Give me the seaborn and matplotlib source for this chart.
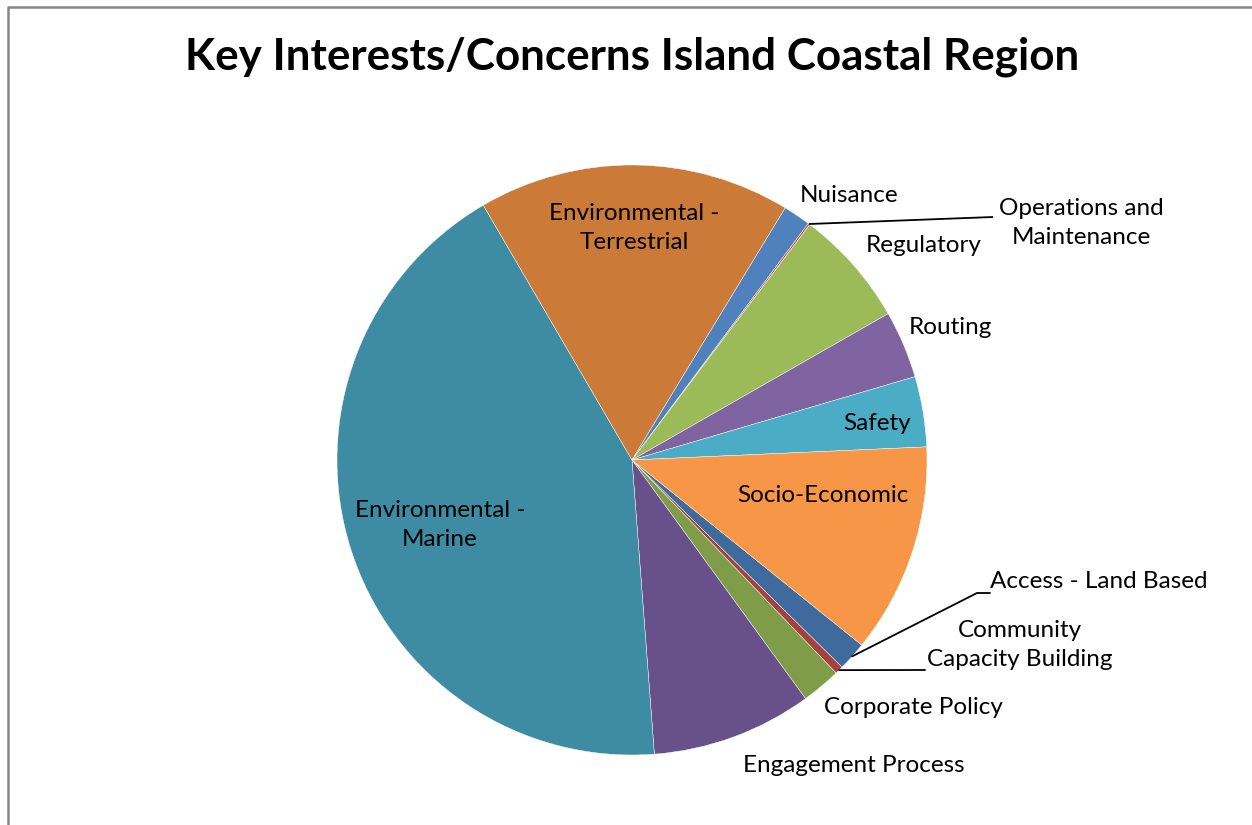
import numpy as np
import matplotlib
matplotlib.use("Agg")
import matplotlib.pyplot as plt
import seaborn as sns

# ---- data (percent share) ----
categories = ["Access - Land Based", "Community\nCapacity Building", "Corporate Policy",
              "Engagement Process", "Environmental -\nMarine", "Environmental -\nTerrestrial",
              "Nuisance", "Operations and\nMaintenance", "Regulatory", "Routing",
              "Safety", "Socio-Economic"]
values = [1.6, 0.45, 2.15, 8.8, 42.8, 17.1, 1.5, 0.1, 6.45, 3.7, 3.85, 11.5]
colors = ["#3E6A9E", "#A2413D", "#7F9C48", "#68508A", "#3D8CA4", "#CC7A38",
          "#4F81BD", "#C0504D", "#9BBB59", "#8064A2", "#4BACC6", "#F79646"]
title = "Key Interests/Concerns Island Coastal Region"

sns.set_theme(style="white")
plt.rcParams["font.family"] = ["Lato", "DejaVu Sans"]

W, H = 1252, 825
fig = plt.figure(figsize=(W / 100, H / 100), dpi=100)
ax = fig.add_axes([0, 0, 1, 1])

cx, cy, R = 632, H - 460, 295
wedges, _ = ax.pie(values, colors=colors, startangle=90 - 128.85, counterclock=False,
                   center=(cx, cy), radius=R, frame=True,
                   wedgeprops=dict(edgecolor="white", linewidth=0.3))
ax.set_xlim(0, W)
ax.set_ylim(0, H)
ax.set_aspect("equal")
ax.axis("off")

def py(y):
    return H - y

fs = 17.5
# label positions (pixel coordinates of label centres)
label_pos = {
    0: (1099, 582),
    1: (1020, 645),
    2: (913, 707),
    3: (854, 765),
    4: (440, 525),
    5: (634, 228),
    6: (849, 195),
    7: (1081, 223),
    8: (924, 245),
    9: (950, 327),
    10: (877, 423),
    11: (823, 496),
}
for i, (x, y) in label_pos.items():
    ax.text(x, py(y), categories[i], ha="center", va="center", fontsize=fs,
            color="black", linespacing=1.5)

def rim_point(i):
    w = wedges[i]
    mid = np.deg2rad((w.theta1 + w.theta2) / 2)
    return cx + R * np.cos(mid), cy + R * np.sin(mid)

# leader lines
x0, y0 = rim_point(7)
ax.plot([x0, 993], [y0, py(217)], color="black", lw=1.3, solid_capstyle="butt")
x0, y0 = rim_point(0)
ax.plot([x0, 977, 990], [y0, py(593), py(593)], color="black", lw=1.3)
x0, y0 = rim_point(1)
ax.plot([x0, 925], [y0, py(670)], color="black", lw=1.3)

# chart border (left and top)
ax.plot([8, 8, W + 5], [-5, py(7), py(7)], color="#878787", lw=1.8, clip_on=False)

ax.text(632, py(57), title, ha="center", va="center", fontsize=31.7,
        fontweight="bold", color="black")

fig.savefig("out.png", dpi=100, facecolor="white")
